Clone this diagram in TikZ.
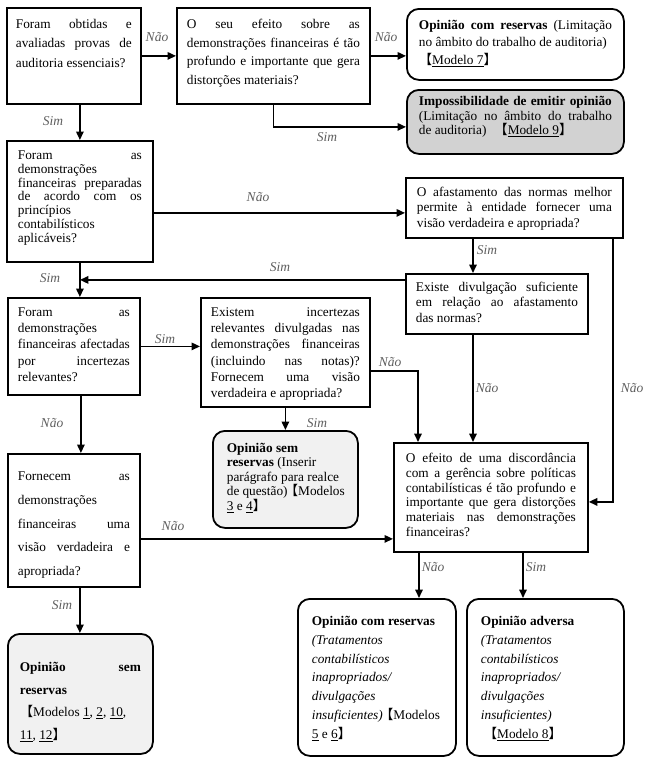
\documentclass[tikz,border=0pt]{standalone}
\usepackage{fontspec}
\setmainfont{Liberation Serif}
\newfontfamily\cjk{Noto Sans CJK SC}
\usetikzlibrary{arrows.meta,calc}
\newcommand\lb{{\cjk 【}}
\newcommand\rb{{\cjk 】}}
\newcommand\tb[6]{%
\begin{minipage}[c][#2pt][t]{#1pt}%
\vspace*{#3pt}%
\fontsize{13.3pt}{#5pt}\selectfont
\leftskip=#4pt\rightskip=#4pt minus 4pt
\hyphenpenalty=10000 \exhyphenpenalty=10000 \tolerance=10000 \hbadness=10000 \hfuzz=12pt
\parindent=0pt
\leavevmode\vrule height 9.5pt depth 0pt width 0pt #6\par
\end{minipage}}
\definecolor{darkfill}{HTML}{D2D2D2}
\definecolor{lightfill}{HTML}{F1F1F1}
\definecolor{labgray}{HTML}{5E5E5E}
\tikzset{
  box/.style={draw, line width=1.8pt, inner sep=0pt, anchor=north west},
  rbox/.style={box, rounded corners=12pt},
  arr/.style={line width=1.6pt, -{Triangle[length=8.5pt,width=7.5pt]}},
  lab/.style={font=\fontsize{13.5pt}{13.5pt}\selectfont\itshape, text=labgray, inner sep=0pt}
}
\begin{document}
\begin{tikzpicture}[x=1pt,y=-1pt]
\useasboundingbox (0,0) rectangle (650,772);
% boxes
\node[box] (A) at (6,7) {\tb{134}{96}{11}{9}{19.5}{Foram obtidas e\linebreak avaliadas provas de\linebreak auditoria essenciais?}};
\node[box] (B) at (176,7) {\tb{193}{96}{11}{10}{18.7}{O seu efeito sobre as\linebreak demonstrações financeiras é tão\linebreak profundo e importante que gera\linebreak distorções materiais?}};
\node[rbox] (C) at (406,8) {\tb{217}{71}{11}{12}{17.5}{\textbf{Opinião com reservas} (Limitação\linebreak no âmbito do trabalho de auditoria)\\ \lb\underline{Modelo 7}\rb}};
\node[rbox, fill=darkfill] (D) at (406,89) {\tb{217}{64}{6}{12}{14.7}{\textbf{Impossibilidade de emitir opinião}\linebreak (Limitação no âmbito do trabalho\linebreak de auditoria)\hspace{0.6em}\lb\underline{Modelo 9}\rb}};
\node[box] (E) at (6,140) {\tb{146}{121}{9}{11}{13.8}{Foram as\linebreak demonstrações\\ financeiras preparadas\linebreak de acordo com os\linebreak princípios\\ contabilísticos\\ aplicáveis?}};
\node[box] (F) at (405,177) {\tb{217}{60}{9}{11}{15.5}{O afastamento das normas melhor\linebreak permite à entidade fornecer uma\linebreak visão verdadeira e apropriada?}};
\node[box] (G) at (405,273) {\tb{182}{60}{8}{10}{15.5}{Existe divulgação suficiente\linebreak em relação ao afastamento\linebreak das normas?}};
\node[box] (I) at (7,297) {\tb{132}{97}{9}{10}{16.25}{Foram as\linebreak demonstrações\\ financeiras afectadas\linebreak por incertezas\linebreak relevantes?}};
\node[box] (J) at (200,297) {\tb{169}{109}{9}{10}{16.2}{Existem incertezas\linebreak relevantes divulgadas nas\linebreak demonstrações financeiras\linebreak (incluindo nas notas)?\linebreak Fornecem uma visão\linebreak verdadeira e apropriada?}};
\node[rbox, fill=lightfill] (K) at (212,430) {\tb{145}{97}{12}{14}{14.5}{\textbf{Opinião sem}\\ \textbf{reservas} (Inserir\\ parágrafo para realce\\ de questão)\kern-0.2em\lb Modelos\\ \underline{3} e \underline{4}\rb}};
\node[box] (H) at (393,442) {\tb{194}{109}{10}{12}{14.8}{O efeito de uma discordância\linebreak com a gerência sobre políticas\linebreak contabilísticas é tão profundo e\linebreak importante que gera distorções\linebreak materiais nas demonstrações\linebreak financeiras?}};
\node[box] (L) at (7,453) {\tb{132}{133}{17}{10}{23.8}{Fornecem as\linebreak demonstrações\\ financeiras uma\linebreak visão verdadeira e\linebreak apropriada?}};
\node[rbox, fill=lightfill] (M) at (7,633) {\tb{145}{120}{28}{12}{22.7}{\textbf{Opinião sem}\linebreak \textbf{reservas}\\ \lb Modelos \underline{1}, \underline{2}, \underline{10},\\ \underline{11}, \underline{12}\rb}};
\node[rbox] (N) at (297,598) {\tb{158}{157}{17}{14}{18.8}{\textbf{Opinião com reservas}\\ \textit{(Tratamentos}\\ \textit{contabilísticos}\\ \textit{inapropriados/}\\ \textit{divulgações}\\ \textit{insuficientes)}\kern-0.2em\lb Modelos\\ \underline{5} e \underline{6}\rb}};
\node[rbox] (O) at (466,598) {\tb{157}{157}{17}{14}{18.8}{\textbf{Opinião adversa}\\ \textit{(Tratamentos}\\ \textit{contabilísticos}\\ \textit{inapropriados/}\\ \textit{divulgações}\\ \textit{insuficientes)}\\ \hspace*{3pt}\lb\underline{Modelo 8}\rb}};
% connector start points
\coordinate (fg) at ($(F.south west)+(68,0)$);
\coordinate (gh) at ($(G.south west)+(68,0)$);
\coordinate (fh) at ($(F.south east)+(-11,0)$);
\coordinate (jh) at ($(H.north west)+(25,0)$);
\coordinate (hn) at ($(H.south west)+(26,0)$);
\coordinate (ho) at ($(H.south west)+(130,0)$);
% connectors
\draw[arr] (A.east) -- (A.east -| B.west);
\draw[arr] (B.east) -- (B.east -| C.west);
\draw[arr] (B.south) |- ([yshift=-5pt]D.west);
\draw[arr] (E.north |- A.south) -- (E.north);
\draw[arr] ([yshift=-5pt]F.west -| E.east) -- ([yshift=-5pt]F.west);
\draw[arr] (fg) -- (fg |- G.north);
\draw[arr] ([yshift=24pt]G.west) -- ([yshift=24pt]G.west -| E.south);
\draw[arr] (E.south) -- (E.south |- I.north);
\draw[arr] (I.east) -- (I.east -| J.west);
\draw[arr] (J.south) -- (K.north);
\draw[arr] ([yshift=-18.5pt]J.east) -| (jh);
\draw[arr] (gh) -- (gh |- H.north);
\draw[arr] (fh) |- ([yshift=-4.5pt]H.east);
\draw[arr] ([xshift=7pt]I.south) -- ([xshift=7pt]L.north);
\draw[arr] ([yshift=-18.5pt]L.east) -- ([yshift=-18.5pt]L.east -| H.west);
\draw[arr] ([xshift=6pt]L.south) -- ([xshift=6pt]L.south |- M.north);
\draw[arr] (hn) -- (hn |- N.north);
\draw[arr] (ho) -- (ho |- O.north);
% labels
\node[lab] (l1) at (157,37) {Não};
\node[lab] (l2) at (386,37) {Não};
\node[lab] (l3) at (327,137) {Sim};
\node[lab] (l4) at (53,121) {Sim};
\node[lab] (l5) at (258,197) {Não};
\node[lab] (l6) at (487,250) {Sim};
\node[lab] (l7) at (280,267) {Sim};
\node[lab] (l8) at (50,278) {Sim};
\node[lab] (l9) at (165,339) {Sim};
\node[lab] (l10) at (317,423) {Sim};
\node[lab] (l11) at (390,362) {Não};
\node[lab] (l12) at (487,388) {Não};
\node[lab] (l13) at (632,388) {Não};
\node[lab] (l14) at (52,423) {Não};
\node[lab] (l15) at (173,526) {Não};
\node[lab] (l16) at (62,605) {Sim};
\node[lab] (l17) at (433,567) {Não};
\node[lab] (l18) at (536,567) {Sim};
\end{tikzpicture}
\end{document}
